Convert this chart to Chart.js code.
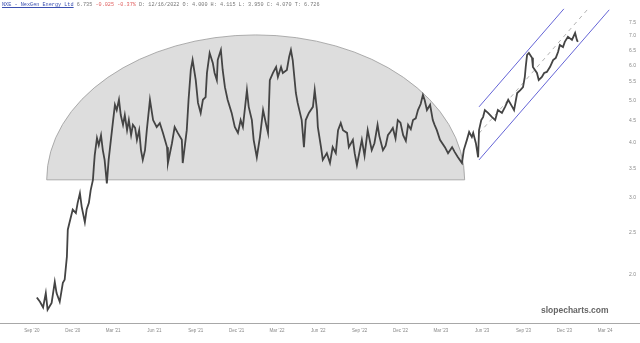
<!DOCTYPE html>
<html>
<head>
<meta charset="utf-8">
<script src="https://cdn.jsdelivr.net/npm/chart.js@4.4.0/dist/chart.umd.min.js"></script>
<style>
  html,body{margin:0;padding:0;background:#fff;overflow:hidden;}
  #wrap{position:relative;width:640px;height:343px;}
  canvas{position:absolute;left:0;top:0;}
  #hdr{position:absolute;left:2px;top:1px;font-family:"Liberation Mono","DejaVu Sans Mono",monospace;font-size:5.2px;color:#777;white-space:pre;line-height:8px;}
  #hdr .t{color:#3a4fb0;text-decoration:underline;}
  #hdr .r{color:#e06060;}
  #wm{position:absolute;left:541px;top:305px;font-family:"Liberation Sans",Arial,sans-serif;font-weight:bold;font-size:8.5px;color:#666;}
</style>
</head>
<body>
<div id="wrap">
<canvas id="c" width="640" height="343"></canvas>
<div id="hdr"><span class="t">NXE - NexGen Energy Ltd</span> 6.735 <span class="r">-0.025 -0.37%</span> D: 12/16/2022 O: 4.000 H: 4.115 L: 3.950 C: 4.070 T: 6.726</div>
<div id="wm">slopecharts.com</div>
</div>
<script>
// ---- data ----
const dates = [
 '2020-09-12','2020-09-19','2020-09-26','2020-10-02','2020-10-06','2020-10-15','2020-10-22','2020-10-26','2020-11-02','2020-11-09',
 '2020-11-13','2020-11-18','2020-11-20','2020-11-24','2020-12-01','2020-12-08','2020-12-12','2020-12-17','2020-12-21','2020-12-28',
 '2021-01-01','2021-01-06','2021-01-10','2021-01-15','2021-01-17','2021-01-19','2021-01-24','2021-01-28','2021-02-02','2021-02-06',
 '2021-02-10','2021-02-15','2021-02-19','2021-02-24','2021-03-01','2021-03-05','2021-03-09','2021-03-14','2021-03-18','2021-03-23',
 '2021-03-27','2021-04-01','2021-04-05','2021-04-10','2021-04-14','2021-04-19','2021-04-23','2021-04-28','2021-05-02','2021-05-06',
 '2021-05-11','2021-05-15','2021-05-22','2021-05-29','2021-06-06','2021-06-13','2021-06-20','2021-06-29','2021-07-01','2021-07-10',
 '2021-07-16','2021-07-23','2021-08-01','2021-08-03','2021-08-12','2021-08-16','2021-08-21','2021-08-25','2021-09-01','2021-09-06',
 '2021-09-12','2021-09-17','2021-09-23','2021-09-26','2021-10-02','2021-10-09','2021-10-13','2021-10-18','2021-10-20','2021-10-27',
 '2021-10-31','2021-11-05','2021-11-11','2021-11-20','2021-11-27','2021-12-04','2021-12-10','2021-12-15','2021-12-24','2021-12-28',
 '2022-01-04','2022-01-08','2022-01-15','2022-01-22','2022-01-29','2022-02-06','2022-02-09','2022-02-13','2022-02-20','2022-02-27',
 '2022-03-03','2022-03-10','2022-03-14','2022-03-23','2022-03-28','2022-04-01','2022-04-05','2022-04-12','2022-04-16','2022-04-25',
 '2022-04-30','2022-05-04','2022-05-11','2022-05-20','2022-05-24','2022-05-29','2022-05-31','2022-06-07','2022-06-11','2022-06-20',
 '2022-06-27','2022-07-03','2022-07-10','2022-07-15','2022-07-21','2022-07-26','2022-08-04','2022-08-08','2022-08-17','2022-08-21',
 '2022-08-26','2022-09-06','2022-09-12','2022-09-19','2022-09-28','2022-10-04','2022-10-11','2022-10-15','2022-10-23','2022-10-29',
 '2022-11-03','2022-11-09','2022-11-14','2022-11-20','2022-11-25','2022-12-01','2022-12-07','2022-12-13','2022-12-18','2022-12-24',
 '2022-12-29','2023-01-04','2023-01-09','2023-01-15','2023-01-20','2023-01-24','2023-01-29','2023-02-05','2023-02-11','2023-02-15',
 '2023-02-20','2023-02-27','2023-03-10','2023-03-17','2023-03-26','2023-04-01','2023-04-08','2023-04-17','2023-04-21','2023-04-28',
 '2023-05-03','2023-05-09','2023-05-12','2023-05-18','2023-05-23','2023-05-25','2023-05-30','2023-06-03','2023-06-07','2023-06-14',
 '2023-06-23','2023-06-30','2023-07-06','2023-07-15','2023-07-22','2023-07-29','2023-08-07','2023-08-11','2023-08-18','2023-08-25',
 '2023-08-31','2023-09-04','2023-09-06','2023-09-09','2023-09-13','2023-09-20','2023-09-22','2023-10-01','2023-10-05','2023-10-12',
 '2023-10-17','2023-10-23','2023-10-30','2023-11-06','2023-11-12','2023-11-17','2023-11-21','2023-11-28','2023-12-02','2023-12-09',
 '2023-12-18','2023-12-25','2023-12-29','2023-12-31'
];
const closes = [
 1.76,1.72,1.67,1.80,1.65,1.71,1.91,1.80,1.72,1.90,
 1.93,2.18,2.51,2.61,2.79,2.74,2.89,3.04,2.83,2.61,
 2.79,2.89,3.09,3.26,3.49,3.71,4.06,3.91,4.12,3.81,
 3.62,3.20,3.62,4.02,4.46,4.83,4.70,4.96,4.58,4.35,
 4.58,4.23,4.46,4.12,4.35,4.28,4.02,4.23,3.81,3.62,
 3.81,4.23,4.96,4.46,4.30,4.39,4.17,3.87,3.56,3.95,
 4.30,4.17,4.02,3.56,4.23,4.96,5.80,6.11,5.50,4.88,
 4.63,4.96,5.03,5.71,6.34,6.02,5.71,5.50,6.11,6.44,
 5.80,5.30,4.96,4.63,4.30,4.17,4.46,4.30,5.22,4.78,
 4.46,4.02,3.67,4.08,4.70,4.30,4.17,5.50,5.71,5.89,
 5.59,5.89,5.71,5.80,6.21,6.44,6.11,5.14,4.88,4.46,
 3.87,4.46,4.63,4.78,5.22,4.70,4.30,3.87,3.62,3.75,
 3.56,3.87,3.75,4.23,4.39,4.23,4.17,3.87,4.02,3.75,
 3.52,4.02,3.70,4.23,3.81,3.95,4.35,4.10,3.81,3.90,
 4.12,4.20,4.28,4.05,4.46,4.40,4.12,4.00,4.35,4.25,
 4.46,4.50,4.70,4.85,5.09,4.95,4.70,4.83,4.46,4.35,
 4.23,4.02,3.87,3.75,3.87,3.77,3.67,3.56,3.81,4.02,
 4.19,4.08,4.17,3.95,3.67,4.23,4.46,4.53,4.70,4.63,
 4.53,4.46,4.70,4.63,4.78,4.96,4.78,4.70,5.14,5.22,
 5.30,5.59,5.89,6.28,6.34,6.18,5.89,5.71,5.50,5.59,
 5.71,5.74,5.89,6.11,6.18,6.37,6.61,6.54,6.72,6.90,
 6.79,7.04,6.79,6.72
];
// rounded-top pattern (dome) drawn over the base
const domeLeftDate = '2020-10-04';
const domeRightDate = '2023-04-23';
const domeBasePrice = 3.26;
const domeTopPrice = 6.97;
// rising channel: [start date, start price, end date, end price]
const channelUpper = ['2023-05-25', 4.78, '2023-11-30', 7.99];
const channelLower = ['2023-05-25', 3.62, '2024-03-10', 7.95];
const channelMid   = ['2023-05-25', 4.16, '2024-01-21', 7.95];
// axes
const tickDates  = ['2020-09-01','2020-12-01','2021-03-01','2021-06-01','2021-09-01','2021-12-01','2022-03-01','2022-06-01','2022-09-01','2022-12-01','2023-03-01','2023-06-01','2023-09-01','2023-12-01','2024-03-01'];
const tickLabels = ["Sep '20","Dec '20","Mar '21","Jun '21","Sep '21","Dec '21","Mar '22","Jun '22","Sep '22","Dec '22","Mar '23","Jun '23","Sep '23","Dec '23","Mar '24"];
const priceTicks = [2.0,2.5,3.0,3.5,4.0,4.5,5.0,5.5,6.0,6.5,7.0,7.5];
const xMinDate = '2020-06-22';
const xMaxDate = '2024-04-03';
const yMin = 1.539, yMax = 8.37;

// ---- build ----
const T = s => Date.parse(s);
const labelMap = {};
tickDates.forEach((d,i)=>{ labelMap[T(d)] = tickLabels[i]; });
const seg = a => [{x:T(a[0]), y:a[1]}, {x:T(a[2]), y:a[3]}];

const domePlugin = {
  id:'dome',
  beforeDatasetsDraw(chart){
    const {ctx, chartArea, scales:{x,y}} = chart;
    const xl = x.getPixelForValue(T(domeLeftDate));
    const xr = x.getPixelForValue(T(domeRightDate));
    const yb = y.getPixelForValue(domeBasePrice);
    const yt = y.getPixelForValue(domeTopPrice);
    ctx.save();
    ctx.beginPath();
    ctx.rect(chartArea.left, chartArea.top, chartArea.right-chartArea.left, chartArea.bottom-chartArea.top);
    ctx.clip();
    ctx.beginPath();
    ctx.ellipse((xl+xr)/2, yb, (xr-xl)/2, yb-yt, 0, Math.PI, 2*Math.PI);
    ctx.closePath();
    ctx.fillStyle = '#dddddd';
    ctx.fill();
    ctx.lineWidth = 0.8;
    ctx.strokeStyle = '#9a9a9a';
    ctx.stroke();
    ctx.restore();
  },
  afterDraw(chart){
    const {ctx, chartArea} = chart;
    ctx.save();
    ctx.strokeStyle = '#a8a8a8';
    ctx.lineWidth = 1;
    ctx.beginPath();
    ctx.moveTo(0, Math.round(chartArea.bottom)+0.5);
    ctx.lineTo(640, Math.round(chartArea.bottom)+0.5);
    ctx.stroke();
    ctx.restore();
  }
};

new Chart(document.getElementById('c'), {
  type:'line',
  data:{
    datasets:[
      {data: dates.map((d,i)=>({x:T(d), y:closes[i]})), borderColor:'#444444', borderWidth:1.8, pointRadius:0, tension:0, order:1},
      {data: seg(channelUpper), borderColor:'#6464d6', borderWidth:1, pointRadius:0, order:2},
      {data: seg(channelLower), borderColor:'#6464d6', borderWidth:1, pointRadius:0, order:2},
      {data: seg(channelMid), borderColor:'#a0a0a0', borderWidth:0.8, borderDash:[4,4], pointRadius:0, order:3}
    ]
  },
  options:{
    responsive:false, animation:false, devicePixelRatio:1,
    layout:{padding:0},
    plugins:{legend:{display:false}, tooltip:{enabled:false}},
    scales:{
      x:{
        type:'linear', min:T(xMinDate), max:T(xMaxDate),
        grid:{display:false, drawTicks:false}, border:{display:false},
        afterBuildTicks(s){ s.ticks = tickDates.map(d=>({value:T(d)})); },
        afterFit(s){ s.height = 20; s.paddingLeft = 0; s.paddingRight = 0; },
        ticks:{autoSkip:false, maxRotation:0, padding:5, color:'#888', font:{size:4.5, family:'Liberation Sans'},
          callback:v=>labelMap[v] ?? ''}
      },
      y:{
        type:'logarithmic', position:'right', min:yMin, max:yMax,
        grid:{display:false, drawTicks:false}, border:{display:false},
        afterBuildTicks(s){ s.ticks = priceTicks.map(v=>({value:v})); },
        afterFit(s){ s.width = 20; s.paddingTop = 0; s.paddingBottom = 0; },
        ticks:{autoSkip:false, padding:9, labelOffset:2, color:'#888', font:{size:5, family:'Liberation Sans'},
          callback:v=>Number(v).toFixed(1)}
      }
    }
  },
  plugins:[domePlugin]
});
</script>
</body>
</html>
